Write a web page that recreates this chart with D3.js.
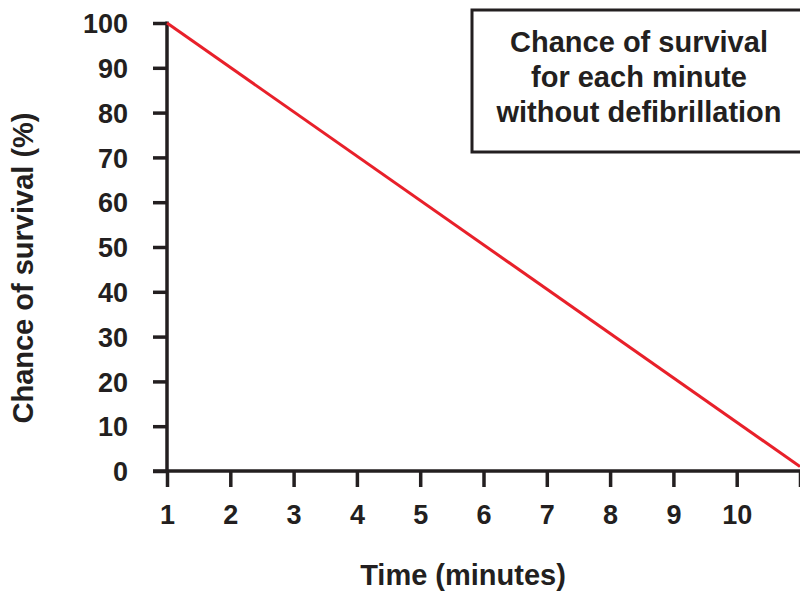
<!DOCTYPE html>
<html lang="en">
<head>
    <meta charset="UTF-8">
    <title>Chance of survival</title>
    <script src="https://d3js.org/d3.v7.min.js"></script>
    <style>
        body { margin: 0; background: #fff; }
        svg { display: block; }
        text { font-family: "Liberation Sans", Arial, sans-serif; font-weight: bold; fill: #231f20; }
    </style>
</head>
<body>
    <svg width="800" height="594"></svg>

    <script>
        // data
        const minutes = [1, 11];
        const survival = [100, 1];
        const xTicks = [1, 2, 3, 4, 5, 6, 7, 8, 9, 10, 11];
        const xTickLabels = ["1", "2", "3", "4", "5", "6", "7", "8", "9", "10", ""];
        const yTicks = [0, 10, 20, 30, 40, 50, 60, 70, 80, 90, 100];
        const boxLines = ["Chance of survival", "for each minute", "without defibrillation"];

        const svg = d3.select("svg");
        const ink = "#231f20";

        const x = d3.scaleLinear().domain([1, 11]).range([167, 800]);
        const y = d3.scaleLinear().domain([0, 100]).range([471, 23]);

        // y axis
        const yAxis = svg.append("g")
            .attr("transform", "translate(167,0)")
            .call(d3.axisLeft(y).tickValues(yTicks).tickSize(14).tickPadding(25).tickSizeOuter(0));
        yAxis.select(".domain").attr("stroke", ink).attr("stroke-width", 3.5)
            .attr("d", `M0,${y(0)}V${y(100) - 1.5}`);
        yAxis.selectAll(".tick line").attr("stroke", ink).attr("stroke-width", 3.5);
        yAxis.selectAll(".tick text").style("font-size", "27px").attr("dy", "0.36em");

        // x axis
        const xAxis = svg.append("g")
            .attr("transform", `translate(0,${y(0)})`)
            .call(d3.axisBottom(x).tickValues(xTicks).tickFormat((d, i) => xTickLabels[i])
                .tickSize(16).tickPadding(18).tickSizeOuter(0));
        xAxis.select(".domain").attr("stroke", ink).attr("stroke-width", 3.5)
            .attr("d", "M153,0H800");
        xAxis.selectAll(".tick line").attr("stroke", ink).attr("stroke-width", 3.5);
        xAxis.selectAll(".tick text").style("font-size", "27px");

        // line
        const pts = minutes.map((m, i) => [m, survival[i]]);
        svg.append("path")
            .datum(pts)
            .attr("fill", "none")
            .attr("stroke", "#e8202a")
            .attr("stroke-width", 3)
            .attr("d", d3.line().x(d => x(d[0])).y(d => y(d[1])));

        // axis titles
        svg.append("text")
            .attr("x", 463).attr("y", 585)
            .attr("text-anchor", "middle")
            .style("font-size", "29px")
            .text("Time (minutes)");

        svg.append("text")
            .attr("transform", "translate(33,268) rotate(-90)")
            .attr("text-anchor", "middle")
            .style("font-size", "29px")
            .text("Chance of survival (%)");

        // note box
        svg.append("rect")
            .attr("x", 472).attr("y", 10)
            .attr("width", 340).attr("height", 142)
            .attr("fill", "none")
            .attr("stroke", ink).attr("stroke-width", 3);

        svg.append("g").selectAll("text")
            .data(boxLines)
            .join("text")
            .attr("x", 639)
            .attr("y", (d, i) => 52 + i * 35)
            .attr("text-anchor", "middle")
            .style("font-size", "29px")
            .text(d => d);
    </script>
</body>
</html>
